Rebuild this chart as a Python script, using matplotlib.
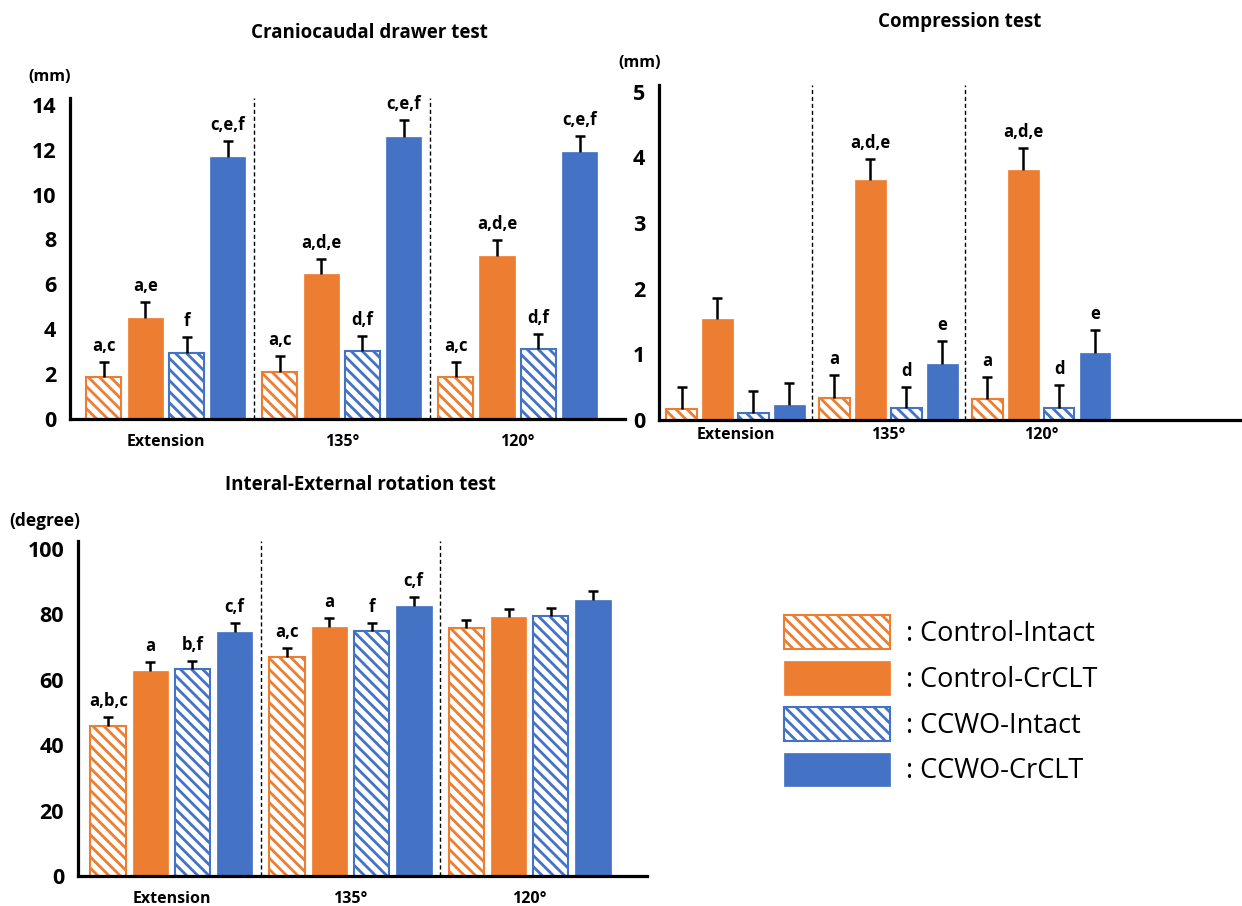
import matplotlib
matplotlib.use('Agg')
import matplotlib.pyplot as plt
from matplotlib.patches import Patch
import numpy as np

plt.rcParams['font.family'] = ['Open Sans', 'DejaVu Sans']
plt.rcParams['hatch.linewidth'] = 2.0

# categories
groups = ['Extension', '135°', '120°']
series = ['Control-Intact', 'Control-CrCLT', 'CCWO-Intact', 'CCWO-CrCLT']

# craniocaudal drawer test (mm)
drawer_mean = [[1.87, 2.09, 1.87],
               [4.49, 6.44, 7.24],
               [2.93, 3.02, 3.11],
               [11.69, 12.58, 11.90]]
drawer_err = [[0.66, 0.71, 0.66],
              [0.71, 0.71, 0.72],
              [0.71, 0.67, 0.67],
              [0.71, 0.75, 0.70]]
drawer_letters = [['a,c', 'a,c', 'a,c'],
                  ['a,e', 'a,d,e', 'a,d,e'],
                  ['f', 'd,f', 'd,f'],
                  ['c,e,f', 'c,e,f', 'c,e,f']]

# compression test (mm)
compress_mean = [[0.17, 0.34, 0.32],
                 [1.53, 3.65, 3.80],
                 [0.11, 0.18, 0.19],
                 [0.23, 0.85, 1.02]]
compress_err = [[0.33, 0.35, 0.34],
                [0.33, 0.33, 0.34],
                [0.33, 0.32, 0.34],
                [0.33, 0.36, 0.35]]
compress_letters = [['', 'a', 'a'],
                    ['', 'a,d,e', 'a,d,e'],
                    ['', 'd', 'd'],
                    ['', 'e', 'e']]

# internal-external rotation test (degree)
rotation_mean = [[45.9, 67.0, 75.8],
                 [62.7, 76.1, 79.2],
                 [63.3, 74.9, 79.5],
                 [74.6, 82.6, 84.4]]
rotation_err = [[2.7, 2.7, 2.5],
                [2.7, 2.8, 2.4],
                [2.4, 2.5, 2.5],
                [2.8, 2.7, 2.7]]
rotation_letters = [['a,b,c', 'a,c', ''],
                    ['a', 'a', ''],
                    ['b,f', 'f', ''],
                    ['c,f', 'c,f', '']]

ORANGE = '#ED7D31'
BLUE = '#4472C4'
colors = [ORANGE, ORANGE, BLUE, BLUE]
hatched = [True, False, True, False]
HATCH = '\\\\\\'


def bar_style(i):
    if hatched[i]:
        return dict(facecolor='white', edgecolor=colors[i], linewidth=1.5, hatch=HATCH)
    return dict(facecolor=colors[i], edgecolor=colors[i], linewidth=0.5)


def draw_panel(ax, means, errs, letters, ylim, yticks, xlim, xpad):
    x = np.arange(len(groups))
    width = 0.2
    pitch = 0.235
    for i in range(len(series)):
        xs = x + (i - 1.5) * pitch
        top = np.array(means[i]) + np.array(errs[i])
        ax.bar(xs, means[i], width, zorder=2, **bar_style(i))
        # upper half of the error bar only, T shaped
        ax.vlines(xs, means[i], top, color='black', lw=1.8, zorder=3)
        ax.plot(xs, top, linestyle='none', marker='_', markersize=7,
                markeredgewidth=1.8, color='black', zorder=3)
        for xi, t_y, t in zip(xs, top, letters[i]):
            if t:
                ax.annotate(t, (xi, t_y), xytext=(0, 5), textcoords='offset points',
                            ha='center', va='bottom', fontsize=12, fontweight='bold')
    for sep in [0.5, 1.5]:
        ax.axvline(sep, color='black', lw=1, linestyle=(0, (3, 2)), zorder=1)
    ax.set_xlim(xlim)
    ax.set_ylim(ylim)
    ax.set_yticks(yticks)
    ax.set_xticks(x)
    ax.set_xticklabels(groups)
    for s in ['top', 'right']:
        ax.spines[s].set_visible(False)
    for s in ['left', 'bottom']:
        ax.spines[s].set_linewidth(2.3)
    ax.tick_params(axis='y', length=0, pad=10, labelsize=15.5)
    ax.tick_params(axis='x', length=0, pad=xpad, labelsize=11.5)
    for lab in ax.get_yticklabels() + ax.get_xticklabels():
        lab.set_fontweight('bold')


W, H = 1242, 906
fig = plt.figure(figsize=(W / 100, H / 100), dpi=100)


def axes_px(left, right, bottom, top):
    return fig.add_axes([left / W, 1 - bottom / H, (right - left) / W, (bottom - top) / H])


ax1 = axes_px(70, 625, 419, 98)
draw_panel(ax1, drawer_mean, drawer_err, drawer_letters, (0, 14.3),
           range(0, 15, 2), (-0.545, 2.61), 11)

ax2 = axes_px(659, 1240, 420, 85)
draw_panel(ax2, compress_mean, compress_err, compress_letters, (0, 5.1),
           range(0, 6), (-0.5, 3.3), 5)

ax3 = axes_px(78, 647, 876, 541)
draw_panel(ax3, rotation_mean, rotation_err, rotation_letters, (0, 102.4),
           range(0, 101, 20), (-0.522, 2.656), 11)

# titles and unit labels
fig.text(369 / W, 1 - 33 / H, 'Craniocaudal drawer test', ha='center', va='center',
         fontsize=13.5, fontweight='bold')
fig.text(960 / W, 1 - 22 / H, 'Compression test', ha='center', va='center',
         fontsize=13.5, fontweight='bold')
fig.text(360 / W, 1 - 485 / H, 'Interal-External rotation test', ha='center', va='center',
         fontsize=13.5, fontweight='bold')
fig.text(50 / W, 1 - 77 / H, '(mm)', ha='center', va='center', fontsize=11.5, fontweight='bold')
fig.text(640 / W, 1 - 63 / H, '(mm)', ha='center', va='center', fontsize=11.5, fontweight='bold')
fig.text(45 / W, 1 - 521 / H, '(degree)', ha='center', va='center', fontsize=12.5, fontweight='bold')

# legend
handles = [Patch(label=': ' + s, **bar_style(i)) for i, s in enumerate(series)]
fig.legend(handles=handles, loc='upper left', bbox_to_anchor=(784 / W, 1 - 615 / H),
           frameon=False, fontsize=19.5, handlelength=3.9, handleheight=1.55,
           handletextpad=0.6, labelspacing=0.44, borderpad=0, borderaxespad=0)

fig.savefig('out.png', dpi=100)
